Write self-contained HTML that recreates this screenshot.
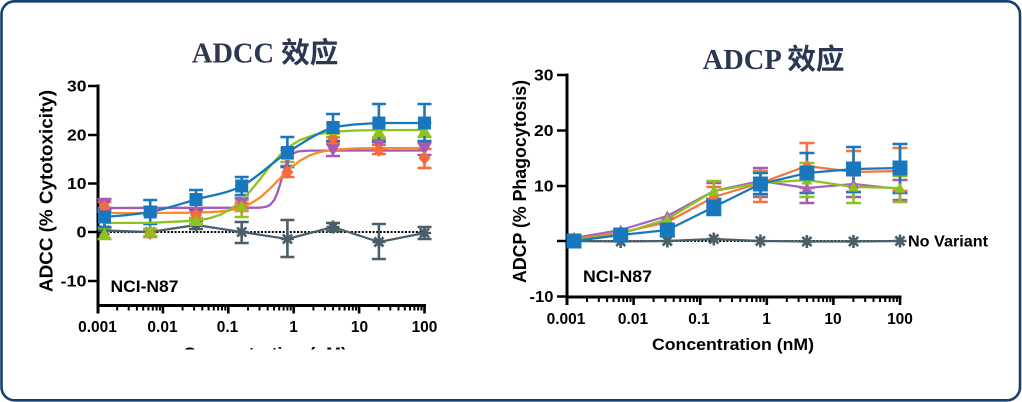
<!DOCTYPE html>
<html>
<head>
<meta charset="utf-8">
<style>
  html,body{margin:0;padding:0;background:#fff;}
  body{width:1022px;height:402px;overflow:hidden;}
  svg{display:block;}
  .t{font-family:"Liberation Sans",Arial,sans-serif;font-weight:bold;fill:#000;}
</style>
</head>
<body>
<svg width="1022" height="402" viewBox="0 0 1022 402" xmlns="http://www.w3.org/2000/svg">
  <defs>
    <path id="sqL" d="M-6.5,-6.5h13v13h-13z"/>
    <path id="tuL" d="M0,-6.5L6.5,5L-6.5,5Z"/>
    <path id="tdL" d="M0,6.5L6.5,-5L-6.5,-5Z"/>
    <path id="dmL" d="M0,-7L6,0L0,7L-6,0Z"/>
    <path id="sqR" d="M-7.5,-7.5h15v15h-15z"/>
    <path id="tuR" d="M0,-5.5L5.5,4.5L-5.5,4.5Z"/>
    <path id="tdR" d="M0,5.5L5.5,-4.5L-5.5,-4.5Z"/>
    <path id="dmR" d="M0,-6L5,0L0,6L-5,0Z"/>
    <path id="st" d="M-6.5,0H6.5M0,-6.5V6.5M-4.6,-4.6L4.6,4.6M-4.6,4.6L4.6,-4.6" stroke="#4b5f6a" stroke-width="2.6" fill="none"/>
    <clipPath id="clipX"><rect x="0" y="0" width="1022" height="349.5"/></clipPath>
  </defs>

  <!-- outer frame -->
  <rect x="1.5" y="1.3" width="1018.5" height="399" rx="13" ry="13" fill="#fff" stroke="#153f6e" stroke-width="2.6"/>

  <!-- titles -->
  <text x="265" y="62.5" font-size="28.5" text-anchor="middle" font-family="'Liberation Serif','Noto Sans CJK SC',serif" font-weight="bold" fill="#2c3852">ADCC 效应</text>
  <text x="773.5" y="69" font-size="28.5" text-anchor="middle" font-family="'Liberation Serif','Noto Sans CJK SC',serif" font-weight="bold" fill="#2c3852">ADCP 效应</text>

  <!-- ================= LEFT CHART ================= -->
  <g stroke="#000" fill="none">
    <path d="M98,84.5V313.5" stroke-width="3"/>
    <path d="M96.5,305.5H426" stroke-width="3"/>
    <path d="M88,86H98M88,135H98M88,183.5H98M88,232H98M88,281H98" stroke-width="2.6"/>
    <path d="M162.9,305V313.5M228.3,305V313.5M293.7,305V313.5M359.1,305V313.5M424.5,305V313.5" stroke-width="2.6"/>
    <path stroke-width="2" d="M117.2,305v5.5M128.7,305v5.5M136.9,305v5.5M143.2,305v5.5M148.4,305v5.5M152.8,305v5.5M156.6,305v5.5M159.9,305v5.5
      M182.6,305v5.5M194.1,305v5.5M202.3,305v5.5M208.6,305v5.5M213.8,305v5.5M218.2,305v5.5M222,305v5.5M225.3,305v5.5
      M248,305v5.5M259.5,305v5.5M267.7,305v5.5M274,305v5.5M279.2,305v5.5M283.6,305v5.5M287.4,305v5.5M290.7,305v5.5
      M313.4,305v5.5M324.9,305v5.5M333.1,305v5.5M339.4,305v5.5M344.6,305v5.5M349,305v5.5M352.8,305v5.5M356.1,305v5.5
      M378.8,305v5.5M390.3,305v5.5M398.5,305v5.5M404.8,305v5.5M410,305v5.5M414.4,305v5.5M418.2,305v5.5M421.5,305v5.5"/>
  </g>
  <g class="t" font-size="15.5" text-anchor="end">
    <text x="86.5" y="91.3" textLength="19.5" lengthAdjust="spacingAndGlyphs">30</text>
    <text x="86.5" y="140.3" textLength="19.5" lengthAdjust="spacingAndGlyphs">20</text>
    <text x="86.5" y="189" textLength="19.5" lengthAdjust="spacingAndGlyphs">10</text>
    <text x="86.5" y="237.5" textLength="10" lengthAdjust="spacingAndGlyphs">0</text>
    <text x="86.5" y="286.5" textLength="26" lengthAdjust="spacingAndGlyphs">-10</text>
  </g>
  <g class="t" font-size="15.5" text-anchor="middle">
    <text x="97.5" y="332">0.001</text>
    <text x="162.5" y="332">0.01</text>
    <text x="227.5" y="332">0.1</text>
    <text x="293.5" y="332">1</text>
    <text x="359.5" y="332">10</text>
    <text x="424.5" y="332">100</text>
  </g>
  <text class="t" transform="translate(52.5,191) rotate(-90)" font-size="18.5" text-anchor="middle" textLength="202" lengthAdjust="spacingAndGlyphs">ADCC (% Cytotoxicity)</text>
  <g clip-path="url(#clipX)">
    <text class="t" x="265" y="359" font-size="17" text-anchor="middle" textLength="164" lengthAdjust="spacingAndGlyphs">Concentration (nM)</text>
  </g>
  <text class="t" x="110.5" y="292" font-size="16.5" textLength="68" lengthAdjust="spacingAndGlyphs">NCI-N87</text>

  <path d="M99,232H425" stroke="#000" stroke-width="2" stroke-dasharray="2,1.6" fill="none"/>

  <g stroke="#4b5f6a" stroke-width="2.6" fill="none">
    <path d="M196,221V229M189,221H203M189,229H203
             M241.7,222V243M234.7,222H248.7M234.7,243H248.7
             M287.4,220V257M280.4,220H294.4M280.4,257H294.4
             M333,223V231M326,223H340M326,231H340
             M378.9,224V259M371.9,224H385.9M371.9,259H385.9
             M424.5,227V239M417.5,227H431.5M417.5,239H431.5"/>
    <path d="M104.5,230.5L150.2,232L196,225L241.7,232L287.4,239L333,227L378.9,242L424.5,233" stroke-width="2.2"/>
  </g>
  <g>
    <use href="#st" x="104.5" y="230.5"/><use href="#st" x="150.2" y="232"/><use href="#st" x="196" y="225"/>
    <use href="#st" x="241.7" y="232"/><use href="#st" x="287.4" y="239"/><use href="#st" x="333" y="227"/>
    <use href="#st" x="378.9" y="242"/><use href="#st" x="424.5" y="233"/>
  </g>

  <g fill="none" stroke-width="2.6">
    <path stroke="#a35bb5" d="M104.5,199V210M97.5,199H111.5M97.5,210H111.5
      M150.2,207V215M143.2,207H157.2M143.2,215H157.2
      M196,210V220M189,210H203M189,220H203
      M241.7,198V208M234.7,198H248.7M234.7,208H248.7
      M287.4,150V166M280.4,150H294.4M280.4,166H294.4
      M333,144V156M326,144H340M326,156H340
      M378.9,140V150M371.9,140H385.9M371.9,150H385.9
      M424.5,143V155M417.5,143H431.5M417.5,155H431.5"/>
    <path stroke="#f66b3b" d="M104.5,202V212M97.5,202H111.5M97.5,212H111.5
      M150.2,229V237M143.2,229H157.2M143.2,237H157.2
      M196,210V220M189,210H203M189,220H203
      M241.7,203V211M234.7,203H248.7M234.7,211H248.7
      M287.4,167V177M280.4,167H294.4M280.4,177H294.4
      M333,133V143M326,133H340M326,143H340
      M378.9,145V154M371.9,145H385.9M371.9,154H385.9
      M424.5,149V168M417.5,149H431.5M417.5,168H431.5"/>
    <path stroke="#8dc21f" d="M104.5,228V239M97.5,228H111.5M97.5,239H111.5
      M150.2,229V236M143.2,229H157.2M143.2,236H157.2
      M196,218V224M189,218H203M189,224H203
      M241.7,200V217M234.7,200H248.7M234.7,217H248.7
      M287.4,148V162M280.4,148H294.4M280.4,162H294.4
      M333,124V137M326,124H340M326,137H340
      M378.9,124V138M371.9,124H385.9M371.9,138H385.9
      M424.5,123V137M417.5,123H431.5M417.5,137H431.5"/>
    <path stroke="#1877bd" d="M104.5,208V227M97.5,208H111.5M97.5,227H111.5
      M150.2,200V224M143.2,200H157.2M143.2,224H157.2
      M196,190V209M189,190H203M189,209H203
      M241.7,177V195M234.7,177H248.7M234.7,195H248.7
      M287.4,137V167M280.4,137H294.4M280.4,167H294.4
      M333,114V141M326,114H340M326,141H340
      M378.9,104V142M371.9,104H385.9M371.9,142H385.9
      M424.5,104V141M417.5,104H431.5M417.5,141H431.5"/>
  </g>

  <g fill="none" stroke-width="2.3" stroke-linejoin="round">
    <path stroke="#a35bb5" d="M104.5,208L260,207.7L266,206.8L270,204.9L274,200.4L277,193.9L280,184.6L283,173.9L286,164.6L289,158.1L293,153.6L298,151.4L310,150.6L424.5,150.5"/>
    <path stroke="#fa8a2a" d="M104.5,213L150,213L196,212.7L210,212.2L220,211.5L230,210.2L240,207.9L250,203.9L260,197.6L270,188.7L280,178.4L290,168.4L300,160.6L310,155.2L320,152L333,149.8L355,148.4L379,148.1L424.5,148"/>
    <path stroke="#8dc21f" d="M104.5,223L150,222.8L196,220.7L210,218.1L220,214.8L230,209.6L240,201.8L250,191.5L260,179.1L270,166.3L280,155L290,146.2L300,140L315,134.7L333,131.8L355,130.5L379,130.1L424.5,130"/>
    <path stroke="#1877bd" d="M104.5,217C112.1,216.2 135,214.9 150.2,212C165.45,209.1 180.75,203.8 196,199.5C211.25,195.2 226.5,193.8 241.7,186C256.9,178.2 272.2,162.25 287.4,152.5C302.6,142.75 317.75,132.4 333,127.5C348.25,124.5 363.65,123.75 378.9,123C394,123 416.9,123 424.5,123"/>
  </g>

  <g fill="#a35bb5">
    <use href="#tdL" x="104.5" y="205"/><use href="#tdL" x="150.2" y="211"/><use href="#tdL" x="196" y="215"/>
    <use href="#tdL" x="241.7" y="203"/><use href="#tdL" x="287.4" y="158"/><use href="#tdL" x="333" y="150"/>
    <use href="#tdL" x="378.9" y="145"/><use href="#tdL" x="424.5" y="149"/>
  </g>
  <g fill="#f66b3b">
    <use href="#dmL" x="104.5" y="207"/><use href="#dmL" x="150.2" y="233"/><use href="#dmL" x="196" y="215"/>
    <use href="#dmL" x="241.7" y="207"/><use href="#dmL" x="287.4" y="172"/><use href="#dmL" x="333" y="138"/>
    <use href="#dmL" x="378.9" y="150"/><use href="#dmL" x="424.5" y="158"/>
  </g>
  <g fill="#8dc21f">
    <use href="#tuL" x="104.5" y="234"/><use href="#tuL" x="150.2" y="232"/><use href="#tuL" x="196" y="221"/>
    <use href="#tuL" x="241.7" y="207"/><use href="#tuL" x="287.4" y="155"/><use href="#tuL" x="333" y="130"/>
    <use href="#tuL" x="378.9" y="132"/><use href="#tuL" x="424.5" y="131"/>
  </g>
  <g fill="#1877bd">
    <use href="#sqL" x="104.5" y="217"/><use href="#sqL" x="150.2" y="212"/><use href="#sqL" x="196" y="199.5"/>
    <use href="#sqL" x="241.7" y="186"/><use href="#sqL" x="287.4" y="152.5"/><use href="#sqL" x="333" y="127.5"/>
    <use href="#sqL" x="378.9" y="123"/><use href="#sqL" x="424.5" y="123"/>
  </g>

  <!-- ================= RIGHT CHART ================= -->
  <g stroke="#000" fill="none">
    <path d="M567,73.5V305" stroke-width="3"/>
    <path d="M565.5,297H901.5" stroke-width="3"/>
    <path d="M557,75H567M557,130.5H567M557,186H567M557,241H567M557,296.5H567" stroke-width="2.6"/>
    <path d="M633.6,297V305M700.2,297V305M766.8,297V305M833.4,297V305M900,297V305" stroke-width="2.6"/>
    <path stroke-width="2" d="M587,297v5M598.8,297v5M607.1,297v5M613.6,297v5M618.8,297v5M623.3,297v5M627.1,297v5M630.5,297v5
      M653.6,297v5M665.4,297v5M673.7,297v5M680.2,297v5M685.4,297v5M689.9,297v5M693.7,297v5M697.1,297v5
      M720.2,297v5M732,297v5M740.3,297v5M746.8,297v5M752,297v5M756.5,297v5M760.3,297v5M763.7,297v5
      M786.8,297v5M798.6,297v5M806.9,297v5M813.4,297v5M818.6,297v5M823.1,297v5M826.9,297v5M830.3,297v5
      M853.4,297v5M865.2,297v5M873.5,297v5M880,297v5M885.2,297v5M889.7,297v5M893.5,297v5M896.9,297v5"/>
  </g>
  <g class="t" font-size="15.5" text-anchor="end">
    <text x="553.5" y="80.3" textLength="19.5" lengthAdjust="spacingAndGlyphs">30</text>
    <text x="553.5" y="136" textLength="19.5" lengthAdjust="spacingAndGlyphs">20</text>
    <text x="553.5" y="191.3" textLength="19.5" lengthAdjust="spacingAndGlyphs">10</text>
    <text x="553.5" y="302" textLength="24" lengthAdjust="spacingAndGlyphs">-10</text>
  </g>
  <g class="t" font-size="15.5" text-anchor="middle">
    <text x="566" y="324">0.001</text>
    <text x="633" y="324">0.01</text>
    <text x="699" y="324">0.1</text>
    <text x="766.5" y="324">1</text>
    <text x="833" y="324">10</text>
    <text x="900" y="324">100</text>
  </g>
  <text class="t" transform="translate(526,181.5) rotate(-90)" font-size="18.5" text-anchor="middle" textLength="203" lengthAdjust="spacingAndGlyphs">ADCP (% Phagocytosis)</text>
  <text class="t" x="733" y="350" font-size="17" text-anchor="middle" textLength="162" lengthAdjust="spacingAndGlyphs">Concentration (nM)</text>
  <text class="t" x="583" y="282" font-size="16.5" textLength="69" lengthAdjust="spacingAndGlyphs">NCI-N87</text>
  <text class="t" x="908" y="246.5" font-size="16" textLength="80" lengthAdjust="spacingAndGlyphs">No Variant</text>

  <path d="M568,241H900" stroke="#000" stroke-width="2" stroke-dasharray="2,1.6" fill="none"/>

  <path d="M574,241L620.7,241.5L667.3,241L713.8,239L760.4,241L806.9,241.5L853.5,241.5L900,241" stroke="#4b5f6a" stroke-width="2.2" fill="none"/>
  <g>
    <use href="#st" x="574" y="241"/><use href="#st" x="620.7" y="241.5"/><use href="#st" x="667.3" y="241"/>
    <use href="#st" x="713.8" y="239"/><use href="#st" x="760.4" y="241"/><use href="#st" x="806.9" y="241.5"/>
    <use href="#st" x="853.5" y="241.5"/><use href="#st" x="900" y="241"/>
  </g>

  <g fill="none" stroke-width="2.6">
    <path stroke="#a35bb5" d="M713.8,183V199M706.3,183H721.3M706.3,199H721.3
      M760.4,168V197M752.9,168H767.9M752.9,197H767.9
      M806.9,172V203M799.4,172H814.4M799.4,203H814.4
      M853.5,172V197M846,172H861M846,197H861
      M900,180V200M892.5,180H907.5M892.5,200H907.5"/>
    <path stroke="#f5733f" d="M667.3,218V226M659.8,218H674.8M659.8,226H674.8
      M713.8,187V206M706.3,187H721.3M706.3,206H721.3
      M760.4,171V202M752.9,171H767.9M752.9,202H767.9
      M806.9,143V188M799.4,143H814.4M799.4,188H814.4
      M853.5,151V192M846,151H861M846,192H861
      M900,148V191M892.5,148H907.5M892.5,191H907.5"/>
    <path stroke="#8dc21f" d="M713.8,181V201M706.3,181H721.3M706.3,201H721.3
      M760.4,172V195M752.9,172H767.9M752.9,195H767.9
      M806.9,163V197M799.4,163H814.4M799.4,197H814.4
      M853.5,175V203M846,175H861M846,203H861
      M900,176V202M892.5,176H907.5M892.5,202H907.5"/>
    <path stroke="#1877bd" d="M620.7,231V239M613.2,231H628.2M613.2,239H628.2
      M667.3,225V236M659.8,225H674.8M659.8,236H674.8
      M713.8,199V215M706.3,199H721.3M706.3,215H721.3
      M760.4,173V194M752.9,173H767.9M752.9,194H767.9
      M806.9,153V193M799.4,153H814.4M799.4,193H814.4
      M853.5,147V192M846,147H861M846,192H861
      M900,144V193M892.5,144H907.5M892.5,193H907.5"/>
  </g>

  <g fill="none" stroke-width="2.2" stroke-linejoin="round">
    <path stroke="#a763bd" d="M574,238L620.7,230L667.3,216L713.8,191L760.4,181L806.9,188L853.5,184L900,189"/>
    <path stroke="#f5733f" d="M574,239L620.7,232.7L667.3,222L713.8,197L760.4,183L806.9,166L853.5,172L900,171"/>
    <path stroke="#8dc21f" d="M574,240L620.7,234L667.3,219L713.8,191L760.4,183L806.9,180L853.5,187L900,188"/>
    <path stroke="#1877bd" d="M574,241L620.7,235L667.3,230L713.8,207L760.4,184L806.9,173L853.5,169L900,168"/>
  </g>

  <g fill="#a763bd">
    <use href="#tuR" x="574" y="238"/><use href="#tuR" x="620.7" y="230"/><use href="#tuR" x="667.3" y="216"/>
    <use href="#tuR" x="713.8" y="191"/><use href="#tuR" x="760.4" y="181"/><use href="#tuR" x="806.9" y="188"/>
    <use href="#tuR" x="853.5" y="184"/><use href="#tuR" x="900" y="189"/>
  </g>
  <g fill="#f5733f">
    <use href="#tuR" x="574" y="237"/><use href="#dmR" x="620.7" y="232.7"/><use href="#dmR" x="667.3" y="222"/>
    <use href="#dmR" x="713.8" y="197"/><use href="#dmR" x="760.4" y="183"/><use href="#dmR" x="806.9" y="166"/>
    <use href="#dmR" x="853.5" y="172"/><use href="#dmR" x="900" y="171"/>
  </g>
  <g fill="#8dc21f">
    <use href="#tuR" x="574" y="240"/><use href="#tuR" x="620.7" y="234"/><use href="#tuR" x="667.3" y="219"/>
    <use href="#tuR" x="713.8" y="191"/><use href="#tuR" x="760.4" y="183"/><use href="#tuR" x="806.9" y="180"/>
    <use href="#tuR" x="853.5" y="187"/><use href="#tuR" x="900" y="188"/>
  </g>
  <g fill="#1877bd">
    <use href="#sqR" x="574" y="241"/><use href="#sqR" x="620.7" y="235"/><use href="#sqR" x="667.3" y="230"/>
    <use href="#sqR" x="713.8" y="207"/><use href="#sqR" x="760.4" y="184"/><use href="#sqR" x="806.9" y="173"/>
    <use href="#sqR" x="853.5" y="169"/><use href="#sqR" x="900" y="168"/>
  </g>
</svg>
</body>
</html>
